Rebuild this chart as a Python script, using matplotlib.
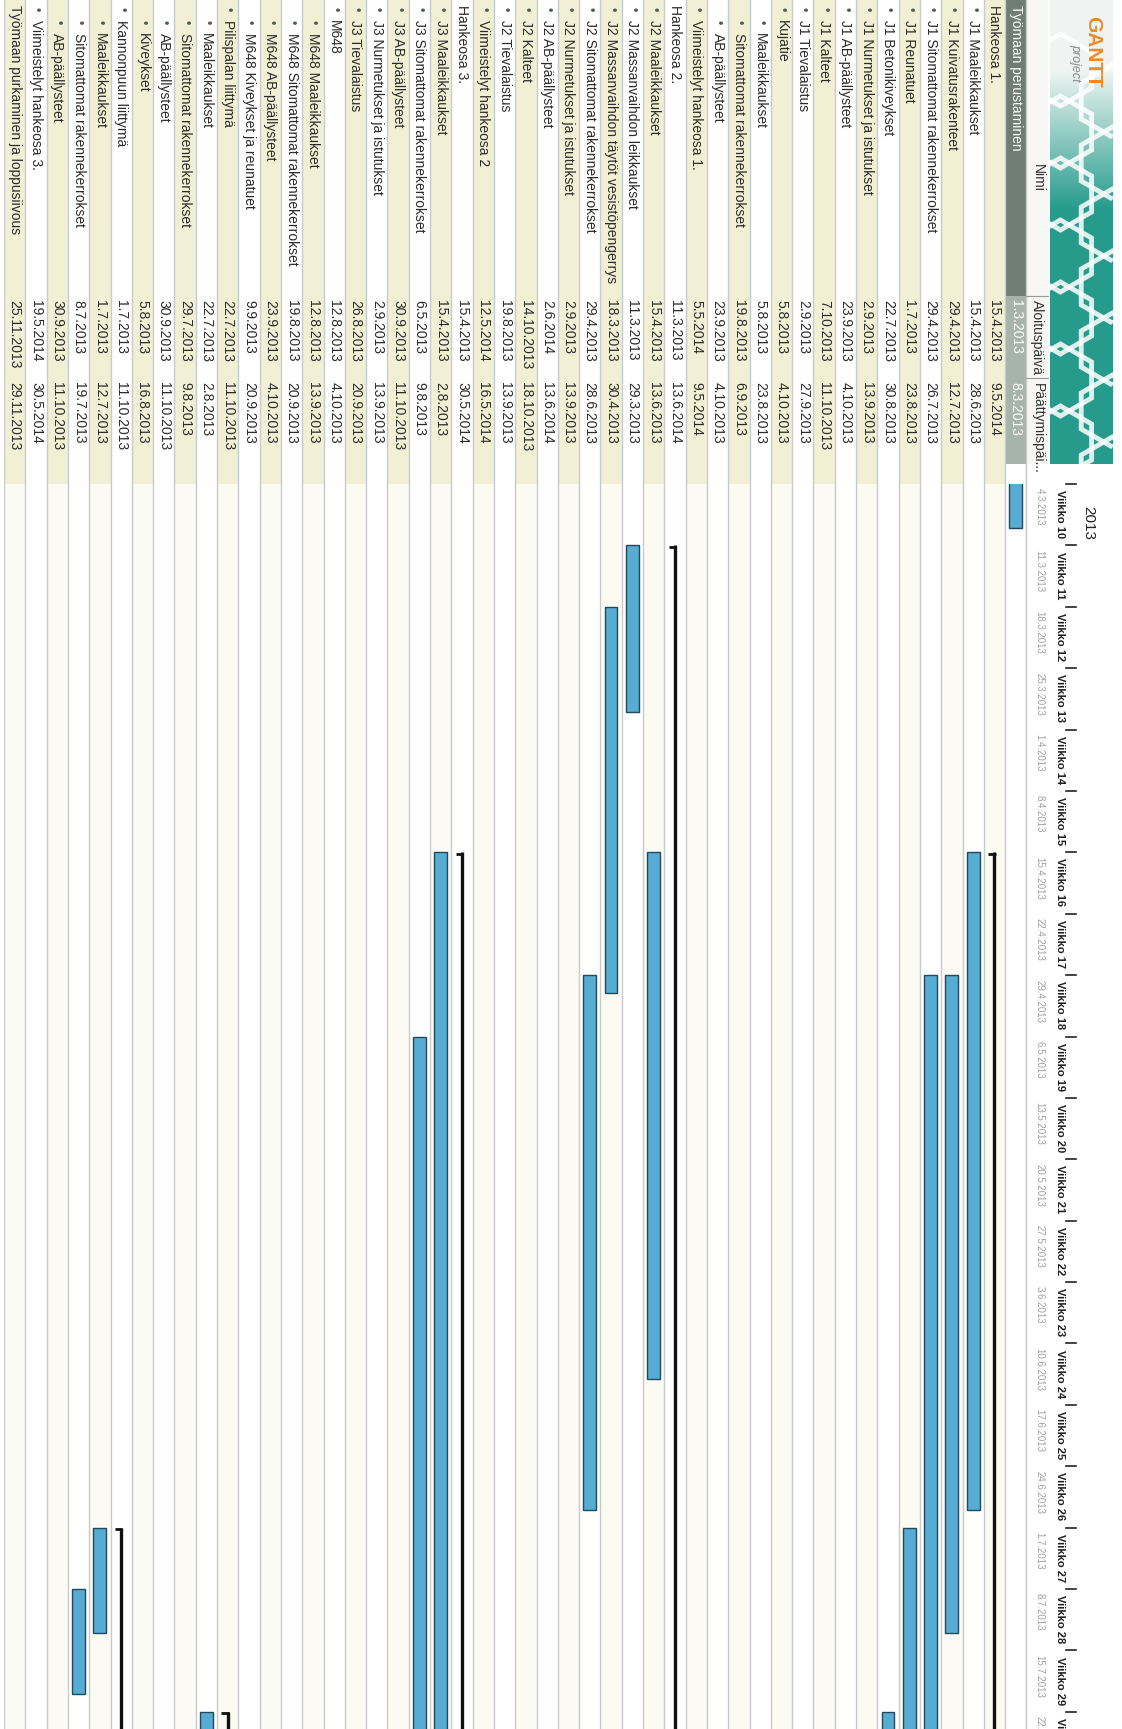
import datetime as dt

import matplotlib
matplotlib.use("Agg")
import matplotlib.pyplot as plt
import matplotlib.dates as mdates
import matplotlib.transforms as mtrans
from matplotlib.patches import Rectangle, RegularPolygon
import numpy as np

plt.rcParams["font.family"] = ["Liberation Sans", "DejaVu Sans"]

# ---- data (top row of the Gantt chart first) ----
TASK_NAMES = [
    "Työmaan perustaminen",
    "Hankeosa 1.",
    "J1 Maaleikkaukset",
    "J1 Kuivatusrakenteet",
    "J1 Sitomattomat rakennekerrokset",
    "J1 Reunatuet",
    "J1 Betonikiveykset",
    "J1 Nurmetukset ja istutukset",
    "J1 AB-päällysteet",
    "J1 Kalteet",
    "J1 Tievalaistus",
    "Kujatie",
    "Maaleikkaukset",
    "Sitomattomat rakennekerrokset",
    "AB-päällysteet",
    "Viimeistelyt hankeosa 1.",
    "Hankeosa 2.",
    "J2 Maaleikkaukset",
    "J2 Massanvaihdon leikkaukset",
    "J2 Massanvaihdon täytöt vesistöpengerrys",
    "J2 Sitomattomat rakennekerrokset",
    "J2 Nurmetukset ja istutukset",
    "J2 AB-päällysteet",
    "J2 Kalteet",
    "J2 Tievalaistus",
    "Viimeistelyt hankeosa 2",
    "Hankeosa 3.",
    "J3 Maaleikkaukset",
    "J3 Sitomattomat rakennekerrokset",
    "J3 AB-päällysteet",
    "J3 Nurmetukset ja istutukset",
    "J3 Tievalaistus",
    "M648",
    "M648 Maaleikkaukset",
    "M648 Sitomattomat rakennekerrokset",
    "M648 AB-päällysteet",
    "M648 Kiveykset ja reunatuet",
    "Pilispalan liittymä",
    "Maaleikkaukset",
    "Sitomattomat rakennekerrokset",
    "AB-päällysteet",
    "Kiveykset",
    "Kannonpuun liittymä",
    "Maaleikkaukset",
    "Sitomattomat rakennekerrokset",
    "AB-päällysteet",
    "Viimeistelyt hankeosa 3.",
    "Työmaan purkaminen ja loppusiivous",
]
TASK_LEVELS = [0, 0, 1, 1, 1, 1, 1, 1, 1, 1, 1, 1, 2, 2, 2, 1,
               0, 1, 1, 1, 1, 1, 1, 1, 1, 1,
               0, 1, 1, 1, 1, 1, 1, 2, 2, 2, 2, 1, 2, 2, 2, 2, 1, 2, 2, 2, 1, 0]
START_DATES = [
    "1.3.2013", "15.4.2013", "15.4.2013", "29.4.2013", "29.4.2013", "1.7.2013",
    "22.7.2013", "2.9.2013", "23.9.2013", "7.10.2013", "2.9.2013", "5.8.2013",
    "5.8.2013", "19.8.2013", "23.9.2013", "5.5.2014", "11.3.2013", "15.4.2013",
    "11.3.2013", "18.3.2013", "29.4.2013", "2.9.2013", "2.6.2014", "14.10.2013",
    "19.8.2013", "12.5.2014", "15.4.2013", "15.4.2013", "6.5.2013", "30.9.2013",
    "2.9.2013", "26.8.2013", "12.8.2013", "12.8.2013", "19.8.2013", "23.9.2013",
    "9.9.2013", "22.7.2013", "22.7.2013", "29.7.2013", "30.9.2013", "5.8.2013",
    "1.7.2013", "1.7.2013", "8.7.2013", "30.9.2013", "19.5.2014", "25.11.2013",
]
END_DATES = [
    "8.3.2013", "9.5.2014", "28.6.2013", "12.7.2013", "26.7.2013", "23.8.2013",
    "30.8.2013", "13.9.2013", "4.10.2013", "11.10.2013", "27.9.2013", "4.10.2013",
    "23.8.2013", "6.9.2013", "4.10.2013", "9.5.2014", "13.6.2014", "13.6.2013",
    "29.3.2013", "30.4.2013", "28.6.2013", "13.9.2013", "13.6.2014", "18.10.2013",
    "13.9.2013", "16.5.2014", "30.5.2014", "2.8.2013", "9.8.2013", "11.10.2013",
    "13.9.2013", "20.9.2013", "4.10.2013", "13.9.2013", "20.9.2013", "4.10.2013",
    "20.9.2013", "11.10.2013", "2.8.2013", "9.8.2013", "11.10.2013", "16.8.2013",
    "11.10.2013", "12.7.2013", "19.7.2013", "11.10.2013", "30.5.2014", "29.11.2013",
]
SUMMARY_ROWS = [1, 11, 16, 26, 32, 37, 42]
COLUMN_TITLES = ["Nimi", "Aloituspäivä", "Päättymispäi..."]
YEAR_LABEL = "2013"
VIEW_START = dt.datetime(2013, 3, 4)

# ---- layout (pixels of the 1122x1729 page, rotated chart) ----
W, H = 1122, 1729
ROW_LEFT = 4
ROW_W = 21.3
CHART_TOP = 484
HEAD_END = 464
PX_PER_DAY = 8.77
COL_EDGES = [0, 296, 378, CHART_TOP]
TITLE_Y = [178, 337, 383]
TEXT_Y = [0, 300, 382]
LEVEL_TEXT_Y = [5, 20, 33]
LEVEL_BULLET_Y = [None, 9, 22]

CREAM = "#f1f0d4"
GRID = "#c6cccb"
BAR_FC = "#56acd2"
BAR_EC = "#23485b"


def parse(d):
    day, month, year = (int(p) for p in d.split("."))
    return mdates.date2num(dt.datetime(year, month, day))


n = len(TASK_NAMES)
rows = np.arange(n)
starts = np.array([parse(d) for d in START_DATES])
ends = np.array([parse(d) for d in END_DATES]) + 1
v_start = mdates.date2num(VIEW_START)
v_end = v_start + (H - CHART_TOP) / PX_PER_DAY
table_right = ROW_LEFT + n * ROW_W

fig = plt.figure(figsize=(W / 100, H / 100), dpi=100)
base = fig.add_axes([0, 0, 1, 1])
base.set_xlim(0, W)
base.set_ylim(H, 0)
base.axis("off")

tab = fig.add_axes([ROW_LEFT / W, 0, n * ROW_W / W, 1])
tab.set_xlim(n - 0.5, -0.5)
tab.set_ylim(H, 0)
tab.axis("off")
tab.patch.set_alpha(0)

gantt = fig.add_axes([ROW_LEFT / W, 0, n * ROW_W / W, (H - CHART_TOP) / H])
gantt.set_xlim(n - 0.5, -0.5)
gantt.set_ylim(v_end, v_start)
gantt.axis("off")
gantt.patch.set_alpha(0)

# row backgrounds
for i in rows:
    if i == 0:
        tab.add_patch(Rectangle((i - 0.5, 0), 1, COL_EDGES[1], fc="#6f7d76", ec="none"))
        tab.add_patch(Rectangle((i - 0.5, COL_EDGES[1]), 1, HEAD_END - COL_EDGES[1],
                                fc="#a7b3ad", ec="none"))
    elif i % 2 == 1:
        tab.add_patch(Rectangle((i - 0.5, 0), 1, CHART_TOP, fc=CREAM, ec="none"))
        tab.add_patch(Rectangle((i - 0.5, CHART_TOP), 1, H - CHART_TOP, fc="#fbfbf3", ec="none"))
for i in range(n + 1):
    tab.axvline(i - 0.5, color=GRID, lw=1.0, zorder=1)

# names, bullets, dates
for i in rows:
    lvl = TASK_LEVELS[i]
    txt_color = "white" if i == 0 else "#2a2a2a"
    tab.text(i, LEVEL_TEXT_Y[lvl], TASK_NAMES[i], rotation=270, rotation_mode="anchor",
             ha="left", va="center", fontsize=10, color=txt_color, zorder=3)
    if LEVEL_BULLET_Y[lvl] is not None:
        tab.text(i, LEVEL_BULLET_Y[lvl], "•", rotation=270, rotation_mode="anchor",
                 ha="center", va="center", fontsize=9, color="#505a50", zorder=3)
    tab.text(i, TEXT_Y[1], START_DATES[i], rotation=270, rotation_mode="anchor",
             ha="left", va="center", fontsize=10, color=txt_color, zorder=3)
    tab.text(i, TEXT_Y[2], END_DATES[i], rotation=270, rotation_mode="anchor",
             ha="left", va="center", fontsize=10, color=txt_color, zorder=3)

# task bars
task_rows = [i for i in rows if i not in SUMMARY_ROWS]
gantt.bar(task_rows, ends[task_rows] - starts[task_rows], bottom=starts[task_rows],
          width=0.6, color=BAR_FC, edgecolor=BAR_EC, linewidth=1.0, zorder=3)

# summary brackets
for i in SUMMARY_ROWS:
    gantt.plot([i, i], [starts[i], ends[i]], color="#111111", lw=2.4,
               solid_capstyle="butt", zorder=4)
    gantt.plot([i - 0.05, i + 0.3], [starts[i] + 0.15, starts[i] + 0.15], color="#111111",
               lw=2.0, solid_capstyle="butt", zorder=4)

# table header row
hdr_x0, hdr_x1 = table_right, table_right + 22
base.add_patch(Rectangle((hdr_x0, 0), hdr_x1 - hdr_x0, HEAD_END, fc="#f6f7f5", ec="none"))
base.plot([hdr_x0, hdr_x0], [0, H], color=GRID, lw=1.0, zorder=2)
for k, title in enumerate(COLUMN_TITLES):
    base.text((hdr_x0 + hdr_x1) / 2, TITLE_Y[k], title, rotation=270,
              rotation_mode="anchor", ha="center" if k < 2 else "left", va="center",
              fontsize=10, color="#333333", zorder=3)
    if k > 0:
        base.plot([hdr_x0, hdr_x1], [COL_EDGES[k], COL_EDGES[k]], color="#999999", lw=0.8,
                  zorder=3)

# logo block
logo_x0, logo_x1 = hdr_x1 + 2, 1113
grad = np.linspace(0, 1, 240)[:, None]
grad = np.clip((grad - 0.15) / 0.30, 0, 1)
c_top = np.array([0.94, 0.96, 0.95])
c_bot = np.array([0.15, 0.61, 0.55])
img = c_top[None, None, :] * (1 - grad[..., None]) + c_bot[None, None, :] * grad[..., None]
img = np.repeat(img, 2, axis=1)
base.imshow(img, extent=(logo_x0, logo_x1, HEAD_END, 0), origin="upper",
            aspect="auto", zorder=1)
clip = Rectangle((logo_x0, 0), logo_x1 - logo_x0, HEAD_END, transform=base.transData)
for cy in np.arange(70, CHART_TOP + 60, 62):
    for cx, off in ((logo_x0 + 10, 0), (logo_x0 + 62, 31)):
        hexagon = RegularPolygon((cx, cy + off), numVertices=6, radius=36, orientation=0,
                                 fc="none", ec="white", lw=3.5, alpha=0.85, zorder=2)
        base.add_patch(hexagon)
        hexagon.set_clip_path(clip)
base.text(logo_x1 - 20, 16, "GANTT", rotation=270, rotation_mode="anchor", ha="left",
          va="center", fontsize=15, fontweight="bold", color="#ef8a2a", zorder=3)
base.text(logo_x1 - 38, 44, "project", rotation=270, rotation_mode="anchor", ha="left",
          va="center", fontsize=9, style="italic", color="#8a8a8a", zorder=3)

# timeline header
blend = mtrans.blended_transform_factory(base.transData, gantt.transData)
week_starts = mdates.WeekdayLocator(byweekday=mdates.MO).tick_values(
    mdates.num2date(v_start), mdates.num2date(v_end))
for ws in week_starts:
    d = mdates.num2date(ws).date()
    base.text(table_right + 34, ws + 0.7, "Viikko %d" % d.isocalendar()[1], rotation=270,
              rotation_mode="anchor", ha="left", va="center", fontsize=8,
              fontweight="bold", color="#1e1e1e", transform=blend)
    base.text(table_right + 13, ws + 0.5, "%d.%d.%d" % (d.day, d.month, d.year),
              rotation=270, rotation_mode="anchor", ha="left", va="center", fontsize=7,
              color="#a0a0a0", transform=blend)
    base.plot([table_right + 40, table_right + 50], [ws, ws], color="#222222", lw=1.2,
              transform=blend)
base.text(table_right + 62, v_start + 2.5, YEAR_LABEL, rotation=270, rotation_mode="anchor",
          ha="left", va="center", fontsize=11, color="#222222", transform=blend)

fig.savefig("out.png", dpi=100)
